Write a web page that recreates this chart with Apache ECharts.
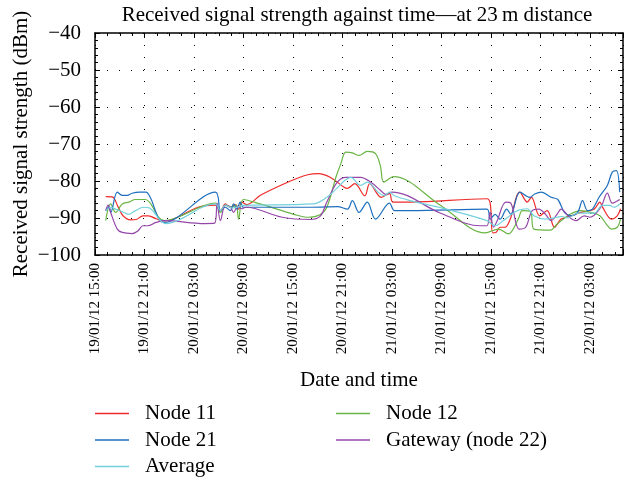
<!DOCTYPE html>
<html>
<head>
<meta charset="utf-8">
<script src="https://cdn.jsdelivr.net/npm/echarts@6/dist/echarts.min.js"></script>
<style>
  html, body { margin: 0; padding: 0; background: #fff; }
  #chart { width: 632px; height: 479px; }
</style>
</head>
<body>
<div id="chart"></div>
<script>
// x = hours since 19/01/12 15:00, y = dBm
var tickLabels = ['19/01/12 15:00', '19/01/12 21:00', '20/01/12 03:00', '20/01/12 09:00',
  '20/01/12 15:00', '20/01/12 21:00', '21/01/12 03:00', '21/01/12 09:00',
  '21/01/12 15:00', '21/01/12 21:00', '22/01/12 03:00'];

var node11 = [[1.3,-84.2],[2.1,-84.3],[2.8,-87],[3.4,-89.4],[4.3,-90.5],[5,-90.4],[5.8,-89.4],[6.5,-89.4],
  [7.4,-90.2],[8.4,-90.8],[12.5,-87.1],[14.6,-86.5],[15.2,-88],[15.8,-86.2],[16.4,-87.1],[17,-86.4],
  [17.4,-87.6],[17.8,-85.7],[18.4,-86.4],[20.1,-83.8],[23.7,-80],[25.8,-78.3],[27.1,-78],[28.5,-79],
  [30.2,-81.7],[30.6,-82],[31.5,-80.7],[32.7,-84],[33.3,-80.7],[34.7,-84.4],[35.7,-83.4],[36.1,-85.7],
  [38.2,-85.7],[47.5,-84.8],[47.9,-86],[48.2,-94],[48.6,-93.9],[49.1,-92.5],[49.7,-92.5],[50.3,-90.5],
  [51.5,-83],[52.4,-85.7],[52.9,-84.4],[53.9,-89.4],[54.8,-88],[55.7,-92.5],[56.5,-90.3],[57.7,-89.4],
  [58.9,-88.5],[60.5,-87.6],[61.2,-85.7],[61.5,-87],[62.6,-90.3],[63.3,-89.4],[63.7,-87.5]];

var node12 = [[1.3,-90.7],[1.9,-86.2],[2.5,-88.5],[3.3,-86.2],[4.1,-85.7],[4.9,-85],[6.1,-85],[6.6,-85.7],
  [8.4,-90.7],[14.6,-86],[15.2,-88.5],[15.8,-86.5],[16.5,-87],[17.1,-86.5],[17.4,-90.3],[18,-85],
  [20,-86.2],[24.1,-89],[25.9,-89.8],[27.2,-89.2],[28.1,-87.1],[29.2,-79],[29.8,-75.3],[30.4,-72.2],
  [31.2,-72.4],[32,-73.1],[33,-72],[34,-72.6],[34.6,-76],[35,-80.3],[36.2,-78.8],[41.9,-86.6],
  [47.3,-94],[48.9,-93],[50.1,-94.3],[51.3,-90.3],[51.8,-88],[52.8,-88.3],[53.2,-93],[55.2,-93.3],
  [56,-91.7],[57.6,-89],[58.9,-88],[60.1,-88.5],[61.2,-89.4],[62,-91.7],[62.6,-93],[63.3,-92.5],[63.7,-90.3]];

var node21 = [[1.3,-88],[1.7,-87],[1.9,-88.5],[2.7,-83],[3.3,-83.9],[3.9,-83.9],[4.5,-83.3],[5.4,-83],
  [6.2,-83],[6.6,-84],[8.4,-91.2],[14.6,-83],[15.2,-88],[15.8,-87.1],[16.4,-88],[16.8,-86.2],[17.2,-87.6],
  [17.6,-85.7],[18,-87.1],[26.4,-87.1],[29.4,-86.9],[30.6,-87.6],[31.2,-85.3],[32,-88.5],[33,-85.7],
  [34,-90.3],[35.7,-86],[36.3,-88],[38.2,-88],[47.5,-87.6],[47.9,-90.3],[48.5,-89],[49.1,-90.3],
  [49.9,-87.6],[50.4,-89],[51.5,-83],[52.7,-84.4],[53.3,-83.5],[54.1,-83],[55.3,-84.4],[56.1,-85],
  [56.9,-88.5],[57.7,-89.4],[58.5,-88.5],[59.1,-85.3],[59.7,-88],[60.3,-87.6],[61.1,-84.4],[62.1,-81.2],
  [62.7,-77.6],[63.2,-77.2],[63.6,-83]];

var gateway = [[1.3,-88],[1.6,-86.5],[1.9,-88.5],[2.7,-93],[3.3,-93.9],[4.5,-94.2],[5.2,-93.5],[5.8,-92.1],
  [6.4,-92.1],[7.4,-91.2],[8.4,-90.7],[13.3,-91.5],[14.5,-91.4],[14.8,-86],[15.2,-90.7],[15.8,-86.6],
  [16.4,-87],[16.8,-88.5],[17.3,-86.8],[17.8,-87.5],[18.3,-87.1],[22.7,-89.8],[26.1,-90.4],[27.3,-89.5],
  [28.1,-85.7],[29.3,-80.5],[30.4,-79],[32.2,-79],[33.4,-80.3],[34.6,-82.5],[35.2,-83.6],[36,-83],
  [41.9,-88.7],[46.7,-92.1],[47.5,-92.1],[47.9,-88.5],[48.3,-92.5],[48.7,-91],[49.8,-85.7],[50.4,-86],
  [51.4,-93],[52.2,-92.5],[53,-88],[53.8,-87.6],[54.6,-89],[55.3,-90.7],[56,-89],[56.5,-87.6],[57.5,-89.8],
  [58.3,-90.7],[59.3,-89.4],[60,-89.8],[61.3,-87.1],[62.1,-83.3],[62.7,-86],[63.3,-85.4],[63.6,-85]];

var average = [[1.3,-88],[1.9,-87.1],[2.5,-87.6],[3.3,-88.3],[4.1,-89],[4.9,-88],[5.9,-87.1],[6.6,-87.3],
  [8.6,-91.5],[14.6,-86.2],[15.2,-88],[15.8,-86.5],[16.6,-87.3],[17.4,-87],[17.8,-86.6],[26.4,-86.2],
  [28.1,-84.4],[29.3,-82],[30.2,-80],[31,-79],[32.2,-81.2],[33,-80.3],[34.3,-83],[35.1,-84],[35.7,-83],
  [36.3,-84],[38.2,-85.3],[42.2,-87.4],[47.5,-90.7],[48.5,-92.1],[49.5,-90.7],[50.2,-89.5],[51.2,-88],
  [52.4,-87.5],[53.2,-89.4],[54.6,-90.3],[56,-89.8],[56.6,-89.6],[57.3,-90],[58.5,-88.7],[60.5,-88.7],
  [61.5,-86.6],[62.4,-86.6],[62.9,-87.1],[63.6,-86.2]];

var serif = '"Liberation Serif", "DejaVu Serif", serif';

var chart = echarts.init(document.getElementById('chart'));

var baseX = {
  type: 'value',
  min: 0,
  max: 64,
  interval: 6,
  axisLine: { show: true, onZero: false, lineStyle: { color: '#000', width: 1.5 } },
  axisTick: { show: true, inside: true, length: 5, lineStyle: { color: '#000' } },
  minorTick: { show: true, splitNumber: 4, length: 3, lineStyle: { color: '#000' } }
};
var baseY = {
  type: 'value',
  min: -100,
  max: -40,
  interval: 10,
  axisLine: { show: true, onZero: false, lineStyle: { color: '#000', width: 1.5 } },
  axisTick: { show: true, inside: true, length: 5, lineStyle: { color: '#000' } },
  minorTick: { show: true, splitNumber: 5, length: 3, lineStyle: { color: '#000' } }
};

var legendText = { fontFamily: serif, fontSize: 21, color: '#000', lineHeight: 21, padding: [0, 0, 0, 11] };

function line(name, data, color) {
  return {
    name: name,
    type: 'line',
    data: data,
    smooth: 0.35,
    showSymbol: false,
    lineStyle: { color: color, width: 1.2 },
    itemStyle: { color: color }
  };
}

chart.setOption({
  animation: false,
  title: {
    text: 'Received signal strength against time\u2014at 23\u2009m distance',
    left: 357,
    textAlign: 'center',
    top: 5,
    padding: 0,
    textStyle: { fontFamily: serif, fontSize: 21, fontWeight: 'normal', color: '#000' }
  },
  grid: { left: 95, right: 9, top: 33, bottom: 224 },
  legend: [{
    orient: 'vertical',
    left: 95,
    top: 403,
    padding: 0,
    itemGap: 5.5,
    itemWidth: 34,
    itemHeight: 1.5,
    icon: 'rect',
    textStyle: legendText,
    data: ['Node 11', 'Node 21', 'Average']
  }, {
    orient: 'vertical',
    left: 336,
    top: 403,
    padding: 0,
    itemGap: 5.5,
    itemWidth: 34,
    itemHeight: 1.5,
    icon: 'rect',
    textStyle: legendText,
    data: ['Node 12', 'Gateway (node 22)']
  }],
  xAxis: [Object.assign({}, baseX, {
    position: 'bottom',
    name: 'Date and time',
    nameLocation: 'middle',
    nameGap: 115,
    nameTextStyle: { fontFamily: serif, fontSize: 21, color: '#000' },
    axisLabel: {
      rotate: 90,
      margin: 8,
      fontFamily: serif,
      fontSize: 15,
      color: '#000',
      formatter: function (v) { return v % 6 === 0 ? tickLabels[v / 6] : ''; }
    },
    splitLine: { show: true, lineStyle: { color: '#000', width: 1, type: [1, 11] } }
  }), Object.assign({}, baseX, {
    position: 'top',
    axisLabel: { show: false },
    splitLine: { show: false }
  })],
  yAxis: [Object.assign({}, baseY, {
    position: 'left',
    name: 'Received signal strength (dBm)',
    nameLocation: 'middle',
    nameGap: 63,
    nameMoveOverlap: false,
    nameTextStyle: { fontFamily: serif, fontSize: 21, color: '#000' },
    axisLabel: {
      margin: 14,
      fontFamily: serif,
      fontSize: 21,
      color: '#000',
      formatter: function (v) { return v < 0 ? '\u2212' + Math.abs(v) : String(v); }
    },
    splitLine: { show: true, lineStyle: { color: '#000', width: 1, type: [1, 11] } }
  }), Object.assign({}, baseY, {
    position: 'right',
    axisLabel: { show: false },
    splitLine: { show: false }
  })],
  series: [
    line('Node 11', node11, '#ee2b2b'),
    line('Node 12', node12, '#6ab545'),
    line('Node 21', node21, '#1d6fbd'),
    line('Gateway (node 22)', gateway, '#9447a8'),
    line('Average', average, '#72d0dc')
  ]
});
</script>
</body>
</html>
